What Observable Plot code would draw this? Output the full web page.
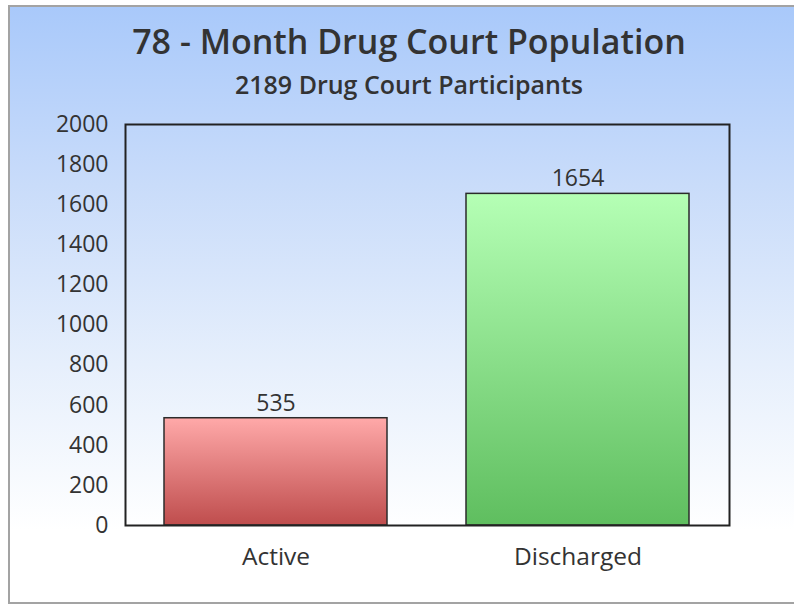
<!DOCTYPE html>
<html>
<head>
<meta charset="utf-8">
<script src="https://cdn.jsdelivr.net/npm/d3@7"></script>
<script src="https://cdn.jsdelivr.net/npm/@observablehq/plot@0.6"></script>
<style>
  html, body { margin: 0; padding: 0; width: 794px; height: 605px; overflow: hidden; background: #ffffff; font-family: "Open Sans", sans-serif; }
  #frame { position: absolute; left: 8px; top: 5px; width: 800px; height: 595px; border: 2px solid #a3a3a3; border-right: none;
    background: linear-gradient(to bottom, #a9c9fa 0%, #c9dcfa 30%, #e6effc 60%, #ffffff 88%, #ffffff 100%); }
  .title { position: absolute; left: 409px; transform: translateX(-50%); white-space: nowrap; color: #333; line-height: normal; }
  #t1 { top: 18px; font-size: 34px; font-weight: 600; }
  #t2 { top: 67px; font-size: 25px; font-weight: 600; }
  #chart { position: absolute; left: 0; top: 0; }
</style>
</head>
<body>
<div id="frame"></div>
<div class="title" id="t1">78 - Month Drug Court Population</div>
<div class="title" id="t2">2189 Drug Court Participants</div>
<div id="chart"></div>
<script>
const categories = ["Active", "Discharged"];
const values = [535, 1654];
const yTicks = [0, 200, 400, 600, 800, 1000, 1200, 1400, 1600, 1800, 2000];
const gradTop = ["#ffa9a9", "#b5ffb5"];
const gradBottom = ["#bf4d4d", "#5fbe5f"];

const data = categories.map((c, i) => ({category: c, value: values[i], idx: i}));

const barMarks = data.map((d, i) =>
  Plot.barY([d], {x: "category", y: "value", fill: `url(#grad${i})`, stroke: "#2b2b2b", strokeWidth: 1.5})
);

const svg = Plot.plot({
  width: 794,
  height: 605,
  marginTop: 124,
  marginBottom: 80,
  marginLeft: 125,
  marginRight: 65,
  style: {background: "transparent", fontFamily: "Open Sans, sans-serif", fontSize: "23px", color: "#333", overflow: "visible"},
  x: {domain: categories, paddingInner: 0.26, paddingOuter: 0.13, label: null, tickSize: 0, tickPadding: 22},
  y: {domain: [0, 2000], ticks: yTicks, label: null, tickSize: 0, tickPadding: 17, tickFormat: d => String(d)},
  marks: [
    ...barMarks,
    Plot.text(data, {x: "category", y: "value", text: d => String(d.value), dy: -15, fontSize: 23, fill: "#333"}),
    Plot.frame({stroke: "#222", strokeWidth: 2})
  ]
});

const ns = "http://www.w3.org/2000/svg";
const defs = document.createElementNS(ns, "defs");
categories.forEach((c, i) => {
  const g = document.createElementNS(ns, "linearGradient");
  g.setAttribute("id", "grad" + i);
  g.setAttribute("x1", "0"); g.setAttribute("y1", "0");
  g.setAttribute("x2", "0"); g.setAttribute("y2", "1");
  const s1 = document.createElementNS(ns, "stop");
  s1.setAttribute("offset", "0"); s1.setAttribute("stop-color", gradTop[i]);
  const s2 = document.createElementNS(ns, "stop");
  s2.setAttribute("offset", "1"); s2.setAttribute("stop-color", gradBottom[i]);
  g.appendChild(s1); g.appendChild(s2);
  defs.appendChild(g);
});
svg.insertBefore(defs, svg.firstChild);
d3.select(svg).selectAll("[aria-label='x-axis tick label'] text, [aria-label='y-axis tick label'] text").attr("fill", "#333");
d3.select(svg).selectAll("[aria-label='x-axis tick label']").style("font-size", "24.5px");
document.getElementById("chart").appendChild(svg);
</script>
</body>
</html>
